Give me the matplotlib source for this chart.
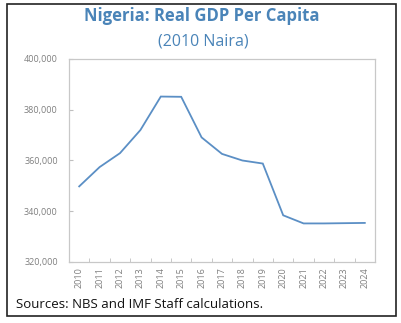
import matplotlib
matplotlib.use("Agg")
import matplotlib.pyplot as plt
from matplotlib.patches import Rectangle
from matplotlib.ticker import FuncFormatter, FixedLocator

years = [str(y) for y in range(2010, 2025)]
gdp_pc = [349800, 357400, 362900, 372000, 385200, 385100, 369100, 362600,
          360000, 358800, 338400, 335200, 335200, 335300, 335400]
yticks = [320000, 340000, 360000, 380000, 400000]

title = "Nigeria: Real GDP Per Capita"
subtitle = "(2010 Naira)"
source = "Sources: NBS and IMF Staff calculations."

plt.rcParams['font.family'] = ['Open Sans', 'DejaVu Sans']
W, H = 401, 323
fig = plt.figure(figsize=(W / 100, H / 100), dpi=100)

def fx(px):
    return px / W

def fy(py):
    return 1 - py / H

ax = fig.add_axes([fx(69), fy(262), fx(375) - fx(69), fy(59) - fy(262)])
x = list(range(len(years)))
ax.plot(x, gdp_pc, color="#5b8fc5", lw=1.3, solid_joinstyle="miter")
ax.set_xlim(-0.5, len(years) - 0.5)
ax.set_ylim(yticks[0], yticks[-1])
ax.set_yticks(yticks)
ax.yaxis.set_major_formatter(FuncFormatter(lambda v, p: f"{int(v):,}"))
ax.set_xticks(x)
ax.set_xticklabels(years, rotation=90)
ax.xaxis.set_minor_locator(FixedLocator([i + 0.5 for i in range(len(years) - 1)]))
ax.tick_params(axis="x", which="major", length=0, labelsize=6.5, labelcolor="#7f7f7f", pad=4)
ax.tick_params(axis="x", which="minor", length=3, direction="in", color="#bfbfbf")
ax.tick_params(axis="y", which="major", length=3, direction="in", color="#bfbfbf",
               labelsize=6.5, labelcolor="#7f7f7f", pad=8)
for s in ax.spines.values():
    s.set_color("#c8c8c8")
    s.set_linewidth(0.9)

fig.text(fx(202), fy(16), title, ha="center", va="center", fontsize=12,
         fontweight="bold", color="#4a84b8")
fig.text(fx(203), fy(41), subtitle, ha="center", va="center", fontsize=11.5,
         color="#4a84b8")
fig.text(fx(16), fy(305), source, ha="left", va="center", fontsize=9.5, color="#111111")

fig.patches.append(Rectangle((fx(7), fy(316)), fx(396) - fx(7), fy(4) - fy(316),
                             transform=fig.transFigure, fill=False, ec="#222222", lw=1.2))

fig.savefig("out.png", dpi=100)
